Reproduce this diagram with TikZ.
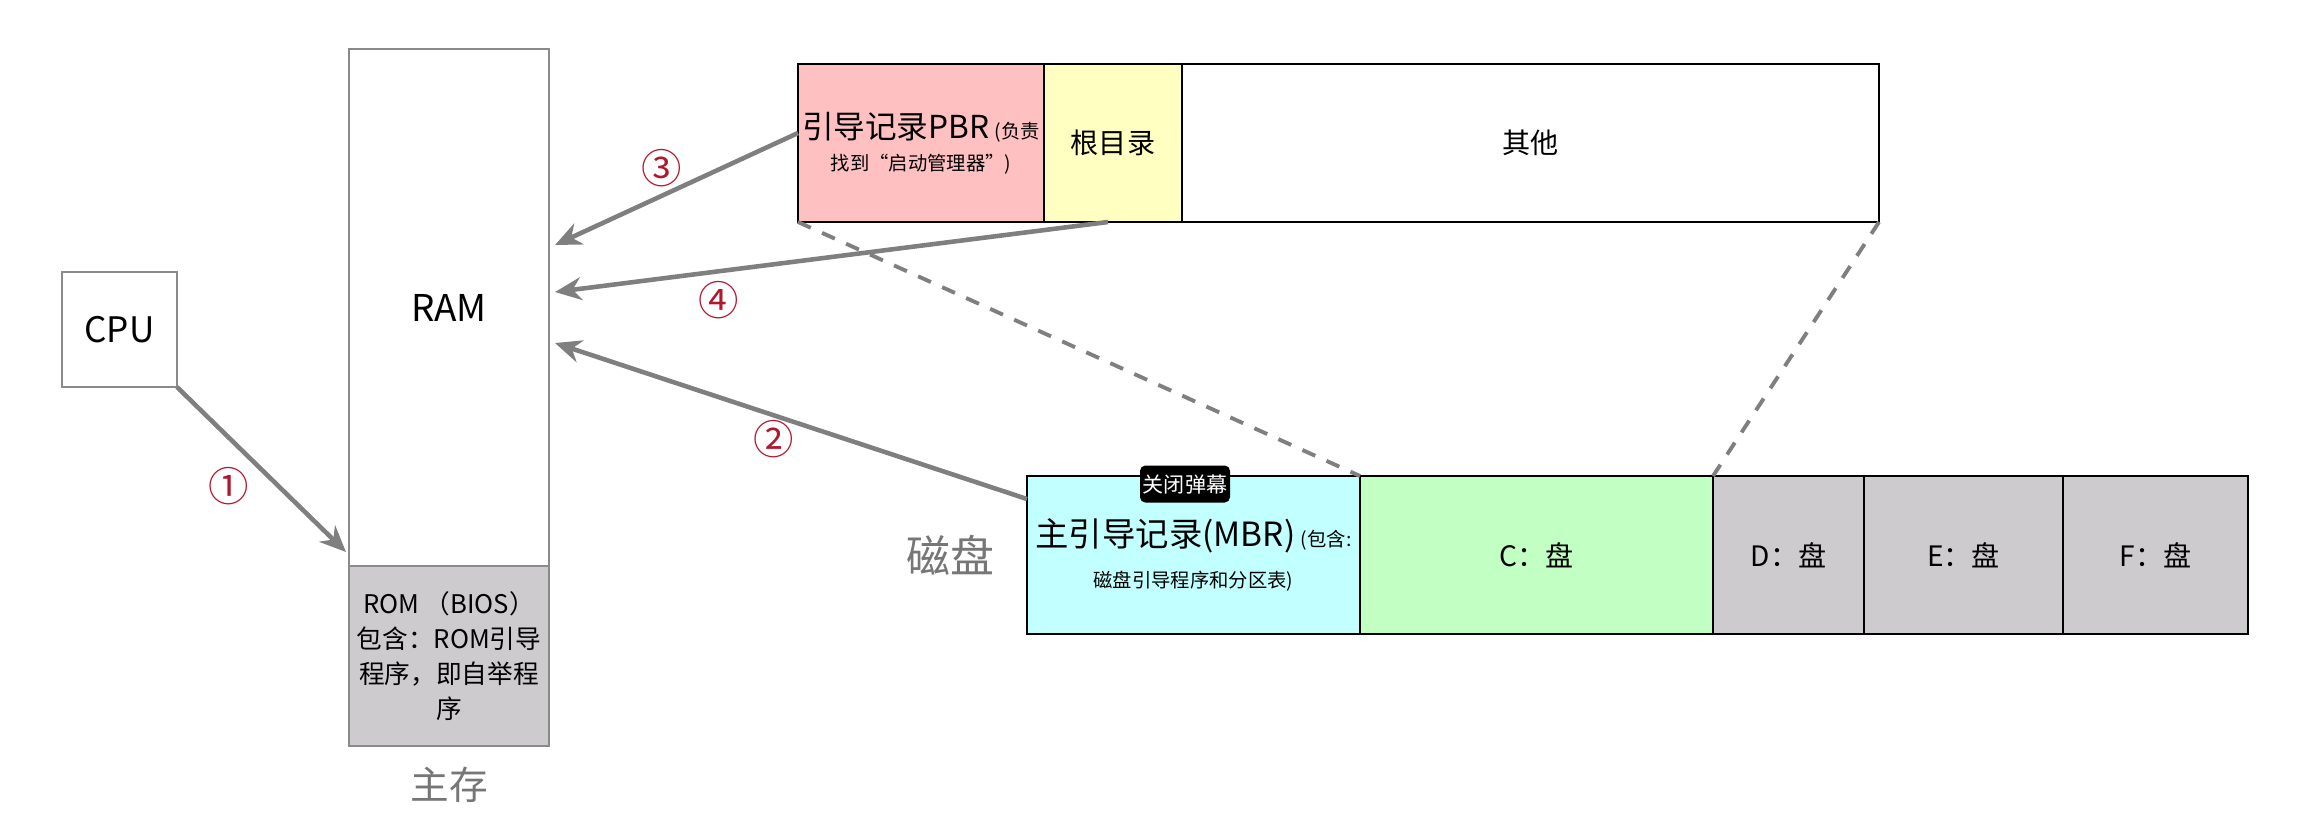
\documentclass[tikz,border=0pt]{standalone}
\usepackage{fontspec}
\setmainfont{Noto Sans CJK SC}
\usetikzlibrary{arrows.meta,positioning}

\definecolor{pbrpink}{HTML}{FFC0C2}
\definecolor{rootyellow}{HTML}{FFFFC2}
\definecolor{mbrcyan}{HTML}{C2FFFF}
\definecolor{cgreen}{HTML}{C2FFC2}
\definecolor{diskgray}{HTML}{CDCBCE}
\definecolor{framegray}{HTML}{8A8A8A}
\definecolor{arrowgray}{HTML}{7F7F7F}
\definecolor{captiongray}{HTML}{767676}
\definecolor{numred}{HTML}{B0182E}

\newcommand{\fsz}[2]{\fontsize{#1}{#2}\selectfont}

\tikzset{
  membox/.style={draw=framegray, line width=0.5pt, inner sep=0pt, outer sep=0pt},
  cell/.style={draw=black, line width=0.6pt, inner sep=0pt, outer sep=0pt,
    minimum height=1.58cm, font=\fsz{8}{10}},
  flow/.style={->, draw=arrowgray, line width=1.3pt},
  stepnum/.style={text=numred, font=\fsz{11.5}{13}},
  zoomline/.style={draw=arrowgray, line width=1.1pt, dash pattern=on 4pt off 3.5pt},
  caption/.style={text=captiongray, font=\fsz{11}{13}}
}

\begin{document}
\begin{tikzpicture}[>={Stealth[length=7.5pt,width=6.5pt]},line width=0.6pt]
  \useasboundingbox (0,0) rectangle (23.16,-8.22);

  % 主存
  \node[membox, minimum width=1.15cm, minimum height=1.15cm, anchor=north west,
    font=\fsz{10}{12}] (cpu) at (0.62,-2.72) {CPU};
  \node[membox, minimum width=2cm, minimum height=5.17cm, anchor=north west,
    font=\fsz{10.5}{12}] (ram) at (3.49,-0.49) {RAM};
  \node[membox, fill=diskgray, minimum width=2cm, minimum height=1.80cm,
    below=0pt of ram, align=center, font=\fsz{7.3}{10}] (rom)
    {ROM （BIOS）\\包含：ROM引导\\程序，即自举程\\序};
  \node[caption, below=0.08cm of rom] (mainmem) {主存};

  % 分区内容
  \node[cell, fill=pbrpink, minimum width=2.46cm, anchor=north west, align=center,
    font=\fsz{9}{9}] (pbr) at (7.98,-0.64)
    {引导记录PBR\,{\fsz{5.5}{7}(负责}\\{\fsz{5.5}{7}找到“启动管理器”)}};
  \node[cell, fill=rootyellow, minimum width=1.38cm, right=0pt of pbr] (root) {根目录};
  \node[cell, minimum width=6.97cm, right=0pt of root] (other) {其他};

  % 磁盘
  \node[cell, fill=mbrcyan, minimum width=3.33cm, anchor=north west, align=center,
    font=\fsz{9.5}{11.5}] (mbr) at (10.27,-4.76)
    {主引导记录(MBR)\,{\fsz{5.5}{7}(包含:}\\{\fsz{5.5}{7}磁盘引导程序和分区表)}};
  \node[cell, fill=cgreen, minimum width=3.53cm, right=0pt of mbr] (cdisk) {C：盘};
  \node[cell, fill=diskgray, minimum width=1.51cm, right=0pt of cdisk] (ddisk) {D：盘};
  \node[cell, fill=diskgray, minimum width=1.99cm, right=0pt of ddisk] (edisk) {E：盘};
  \node[cell, fill=diskgray, minimum width=1.85cm, right=0pt of edisk] (fdisk) {F：盘};
  \node[caption, font=\fsz{12.5}{14}, left=0.2cm of mbr] (disk) {磁盘};

  % 放大虚线
  \draw[zoomline] (pbr.south west) -- (cdisk.north west);
  \draw[zoomline] (other.south east) -- (cdisk.north east);

  % 箭头
  \coordinate (romtip) at (3.46,-5.52);
  \coordinate (tip3) at (5.55,-2.45);
  \coordinate (tip4) at (5.55,-2.92);
  \coordinate (tip2) at (5.55,-3.43);
  \draw[flow] (cpu.south east) -- (romtip);
  \draw[flow] ([yshift=-0.23cm]mbr.north west) -- (tip2);
  \draw[flow] ([yshift=0.1cm]pbr.west) -- (tip3);
  \draw[flow] ([xshift=-0.05cm]root.south) -- (tip4);

  \node[stepnum] (n1) at (2.29,-4.86) {①};
  \node[stepnum] (n2) at (7.74,-4.39) {②};
  \node[stepnum] (n3) at (6.62,-1.68) {③};
  \node[stepnum] (n4) at (7.19,-3.00) {④};

  % 弹幕按钮
  \node[fill=black, rounded corners=1.5pt, text=white, minimum width=0.9cm,
    minimum height=0.37cm, inner sep=0pt, font=\fsz{6}{8}] (danmu)
    at (11.85,-4.84) {关闭弹幕};
\end{tikzpicture}
\end{document}
